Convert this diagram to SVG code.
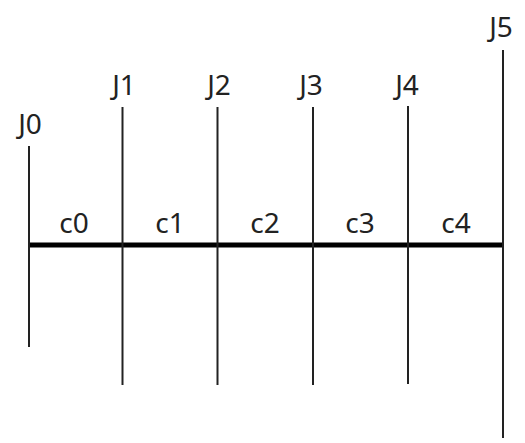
<svg xmlns="http://www.w3.org/2000/svg" width="525" height="443" viewBox="0 0 525 443">
<style>
.j{stroke:#222;stroke-width:2;fill:none}
.bar{stroke:#000;stroke-width:5;fill:none}
text{font-family:"Noto Sans","Open Sans",sans-serif;font-size:28px;fill:#222;text-anchor:middle}
</style>
<rect width="525" height="443" fill="#fff"/>
<g id="connectors">
<line class="bar" x1="29" y1="245" x2="503" y2="245"/>
</g>
<g id="J0"><line class="j" x1="29" y1="146" x2="29" y2="347"/><text x="30" y="134">J0</text></g>
<g id="J1"><line class="j" x1="122.5" y1="107" x2="122.5" y2="385"/><text x="124" y="95">J1</text></g>
<g id="J2"><line class="j" x1="217.5" y1="107" x2="217.5" y2="385"/><text x="219" y="95">J2</text></g>
<g id="J3"><line class="j" x1="313" y1="107" x2="313" y2="385"/><text x="311" y="95">J3</text></g>
<g id="J4"><line class="j" x1="408" y1="106" x2="408" y2="384"/><text x="407" y="95">J4</text></g>
<g id="J5"><line class="j" x1="503" y1="50" x2="503" y2="438"/><text x="501" y="37">J5</text></g>
<g id="c0"><text x="74" y="233">c0</text></g>
<g id="c1"><text x="170" y="233">c1</text></g>
<g id="c2"><text x="265" y="233">c2</text></g>
<g id="c3"><text x="360" y="233">c3</text></g>
<g id="c4"><text x="456" y="233">c4</text></g>
</svg>
